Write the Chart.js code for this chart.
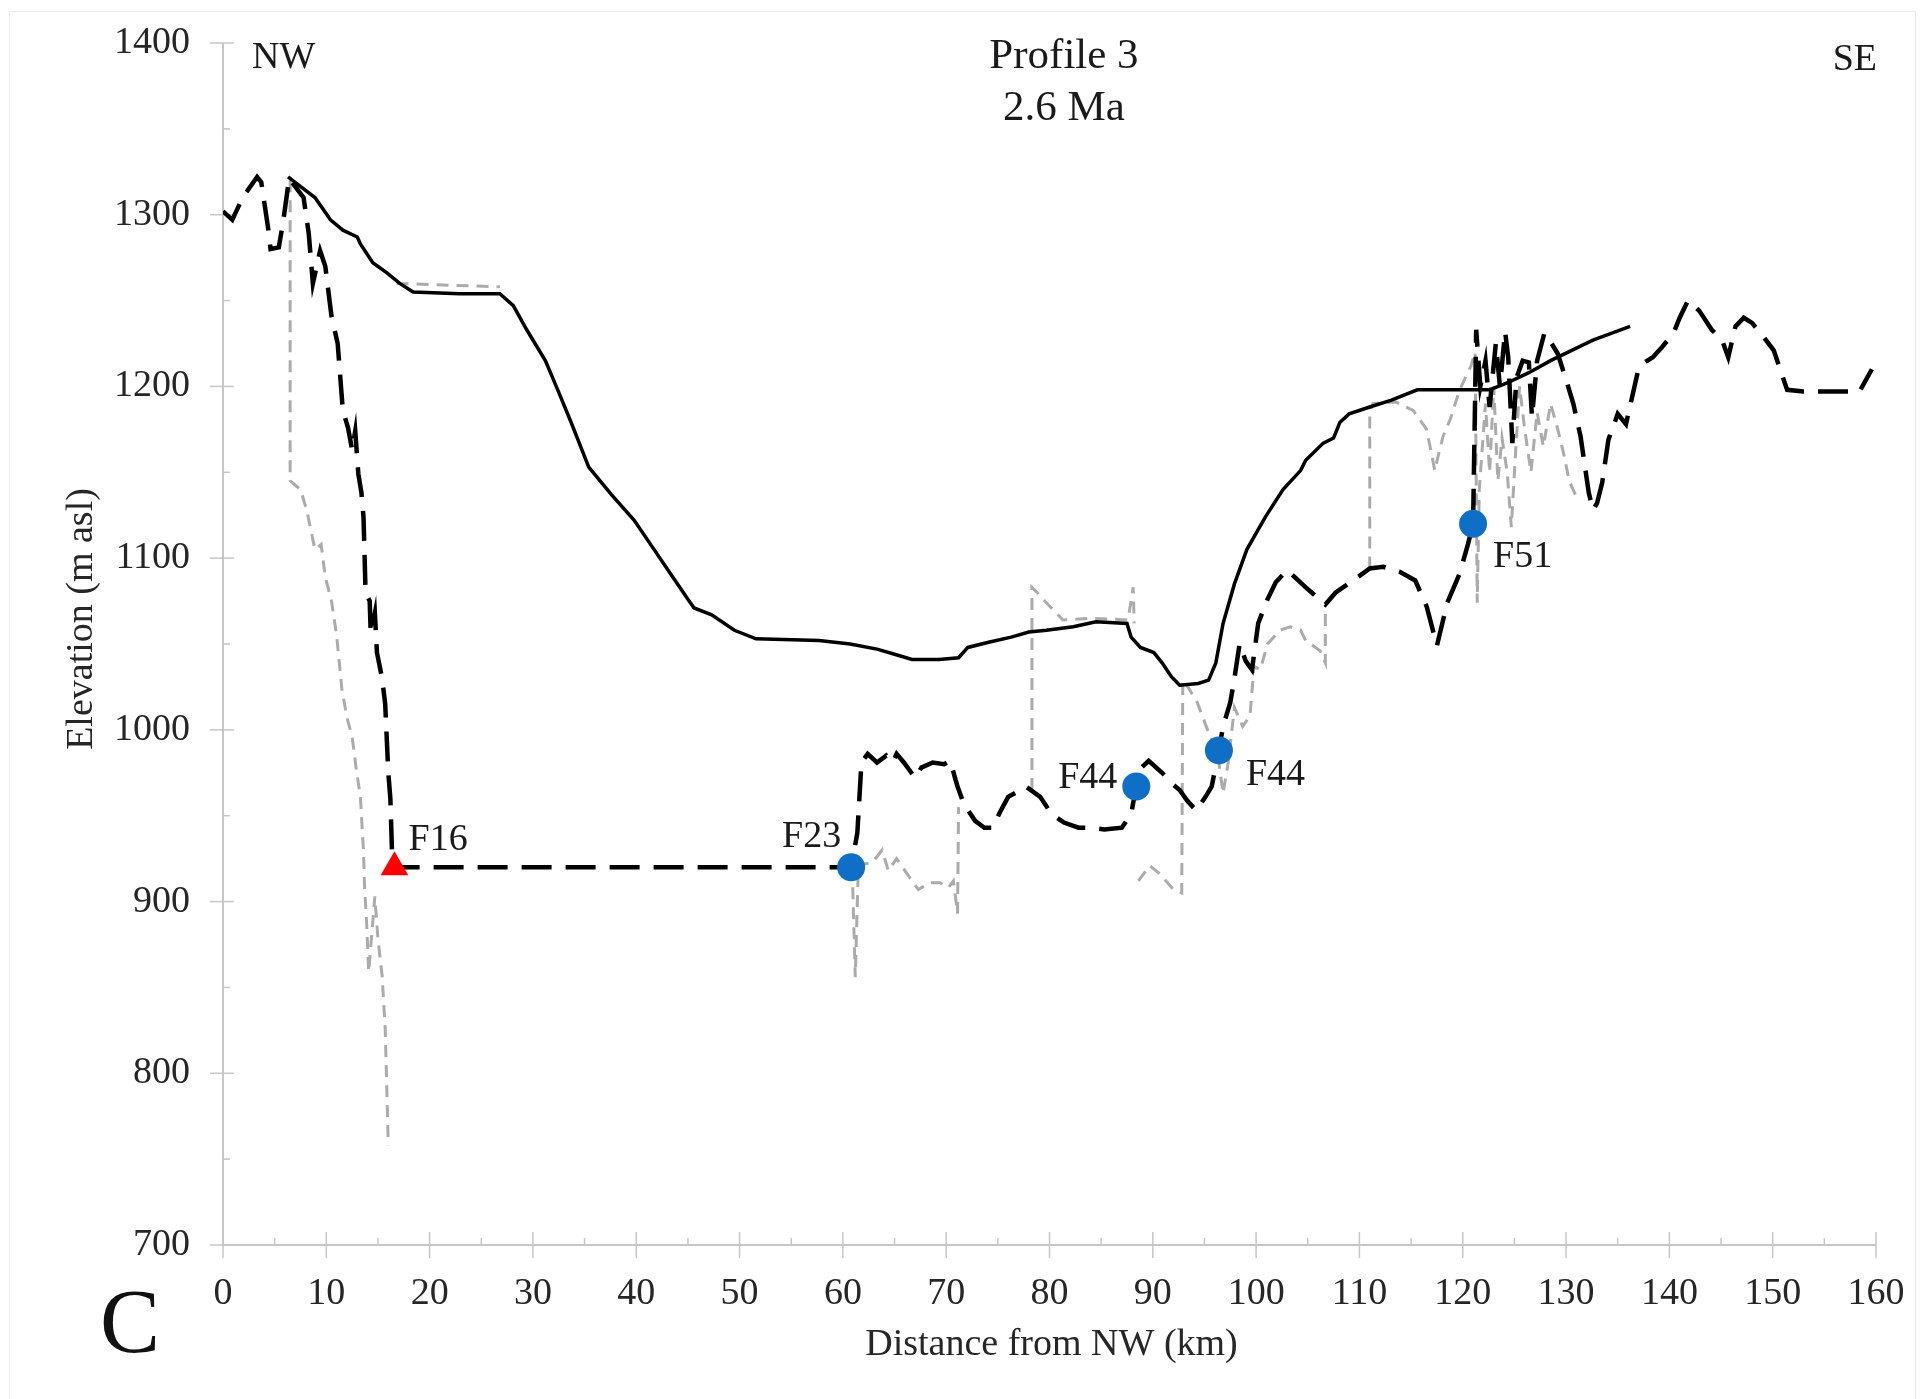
<!DOCTYPE html>
<html>
<head>
<meta charset="utf-8">
<script src="https://cdn.jsdelivr.net/npm/chart.js@4/dist/chart.umd.min.js"></script>
<style>
html,body{margin:0;padding:0;background:#fff;overflow:hidden}
canvas{display:block}
</style>
</head>
<body>
<canvas id="c" width="1923" height="1399" style="width:1923px;height:1399px"></canvas>
<script>
// ---------- DATA ----------
const xTicks = [0,10,20,30,40,50,60,70,80,90,100,110,120,130,140,150,160];
const yTicks = [700,800,900,1000,1100,1200,1300,1400];

// solid line (2.6 Ma surface)
const surfaceX = [6.3,7.8,8.9,10.4,11.6,13.0,13.3,14.5,15.9,17.1,18.4,22.9,26.8,28.1,29.4,31.2,32.4,33.7,35.4,36.5,37.6,39.8,41.5,43.3,45.0,45.6,47.3,49.5,51.6,57.7,60.7,63.3,65.0,66.7,69.3,71.2,72.1,74.1,76.3,78.0,79.7,82.3,84.5,87.5,87.9,88.8,90.1,90.9,91.8,92.6,94.4,95.4,96.1,96.8,97.9,99.1,100.9,102.6,104.3,104.8,106.5,107.5,108.1,109.0,111.0,113.1,115.6,116.9,122.6,124.3,126.4,128.5,132.6,136.2];
const surfaceY = [1322,1315,1310,1297,1291,1287,1283,1272,1266,1260,1255,1254,1254,1247,1233,1215,1198,1179,1153,1145,1137,1122,1107,1091,1076,1071,1067,1058,1053,1052,1050,1047,1044,1041,1041,1042,1048,1051,1054,1057,1058,1060,1063,1062,1054,1048,1045,1039,1031,1026,1027,1029,1039,1062,1085,1105,1124,1140,1151,1157,1167,1170,1179,1184,1188,1192,1198,1198,1198,1202,1208,1215,1227,1235];

// black dashed line (reconstructed profile)
const paleoX = [0,0.9,1.9,3.3,3.7,4.4,4.6,5.4,5.8,6.4,7.8,8.3,8.7,9.4,9.9,10.5,11.1,11.6,12.1,12.5,12.8,13.1,13.4,13.6,13.8,14.2,14.3,14.7,14.9,15.4,15.7,16.0,16.2,16.4,16.6,
  60.8,61.4,61.8,62.4,63.3,64.2,64.8,65.2,65.9,67.0,67.6,68.7,69.8,70.4,70.9,71.1,71.7,72.8,73.7,74.5,75.2,76.0,76.9,77.7,79.1,80.2,81.4,82.8,84.0,85.3,87.0,87.9,88.4,88.9,89.6,90.9,92.0,92.6,93.3,94.2,95.1,95.7,96.4,96.8,97.2,97.5,97.9,98.4,99.0,99.6,100.2,101.1,101.9,103.0,104.8,106.7,107.7,109.4,111.0,112.3,113.9,115.4,116.5,117.5,118.5,119.7,120.5,121.0,
  121.3,121.7,122.2,122.6,123.2,123.6,124.1,124.4,124.8,125.2,125.8,126.4,126.7,127.2,127.9,128.4,129.2,130.1,130.7,131.4,132.2,132.6,133.0,133.5,134.1,135.0,135.8,136.4,137.0,137.6,138.4,139.3,140.4,141.0,141.8,142.9,144.1,145.1,145.7,146.4,147.2,148.0,149.1,150.1,151.4,153.0,158.4,159.6];
const paleoY = [1302,1297,1310,1322,1319,1291,1280,1281,1295,1321,1310,1289,1260,1279,1270,1241,1225,1186,1176,1163,1174,1149,1138,1124,1080,1075,1056,1068,1045,1030,1015,975,960,921,920,
  920,940,981,986,981,985,981,986,981,972,978,981,980,982,971,967,957,947,943,943,952,961,964,967,961,951,946,943,943,942,943,951,967,978,982,975,968,965,959,953,961,967,988,1002,1010,1016,1030,1050,1040,1035,1062,1076,1086,1093,1083,1073,1080,1087,1094,1095,1092,1087,1072,1049,1074,1091,1108,1120,
  1233,1200,1215,1188,1225,1200,1232,1217,1167,1205,1215,1214,1182,1215,1231,1227,1219,1202,1190,1171,1138,1128,1132,1144,1169,1184,1178,1194,1210,1214,1217,1223,1231,1240,1250,1244,1233,1227,1217,1235,1240,1237,1229,1221,1198,1197,1197,1210];

// grey dashed line (null = gap)
const modernX = [6.5,6.5,7.5,8.1,8.9,9.5,9.9,10.5,11.0,11.5,12.0,12.5,12.9,13.3,13.6,13.7,13.9,14.1,14.7,15.0,15.4,15.7,16.0,16.0,
  16.8,26.8,26.8,
  60.9,61.2,61.5,62.9,63.8,64.4,65.2,66.0,67.3,68.4,69.4,70.2,70.7,71.1,71.2,71.2,
  78.3,78.3,78.8,79.7,81.3,84.0,87.6,88.1,88.2,88.2,
  88.6,89.7,90.7,92.0,92.8,92.9,93.5,94.3,95.3,96.3,96.8,97.3,97.9,98.7,99.4,99.8,100.4,101.1,102.3,103.3,104.3,104.8,106.2,106.7,106.7,106.7,
  111.0,111.0,111.3,113.5,115.2,116.5,117.3,117.6,118.1,118.8,119.7,120.8,121.2,121.4,121.6,122.2,122.6,123.0,123.4,123.8,124.3,124.7,125.1,125.5,126.0,126.6,127.2,127.8,128.5,129.2,129.8,130.3,130.9];
const modernY = [1320,1145,1140,1128,1105,1108,1089,1075,1055,1024,1007,996,977,961,929,909,888,859,903,878,857,826,758,null,
  1260,1258,null,
  920,856,921,923,930,918,925,918,907,911,911,908,912,893,955,null,
  965,1083,1080,1074,1064,1065,1064,1083,1062,null,
  912,921,916,907,905,1029,1024,1016,1000,985,963,981,1013,1002,1008,1037,1035,1050,1058,1060,1058,1052,1046,1039,1073,null,
  1094,1185,1190,1191,1186,1175,1151,1159,1171,1181,1198,1212,1220,1074,1140,1190,1150,1200,1145,1170,1150,1118,1160,1200,1175,1150,1185,1165,1190,1175,1160,1145,1137];

// markers
const f16X = [16.6], f16Y = [920], f16Name = ['F16'];
const siteX = [60.8, 88.4, 96.4, 121.0];
const siteY = [920, 967, 988, 1120];
const siteName = ['F23', 'F44', 'F44', 'F51'];

// ---------- STYLE ----------
const FONT = "'Liberation Serif','Times New Roman',serif";
const labelStyle = { // pixel offsets of the text from its marker (style, not data)
  F16: [14, -17, 'left'], F23: [-10, -20, 'right'], F44a: [-19, 1, 'right'], F44b: [27, 35, 'left'], F51: [20, 43, 'left']
};

const toPts = (xs, ys) => xs.map((x, i) => ({x: x, y: ys[i]}));

const axisPlugin = {
  id: 'axisMarks',
  beforeDraw(chart) {
    const ctx = chart.ctx;
    ctx.save();
    ctx.fillStyle = '#fff';
    ctx.fillRect(0, 0, chart.width, chart.height);
    ctx.strokeStyle = '#ececec';
    ctx.lineWidth = 1;
    ctx.strokeRect(9.5, 11.5, 1906, 1420);
    ctx.restore();
  },
  beforeDatasetsDraw(chart) {
    const {ctx, chartArea: a, scales: {x, y}} = chart;
    ctx.save();
    ctx.strokeStyle = '#c6c6c6';
    ctx.lineWidth = 2;
    ctx.beginPath();
    ctx.moveTo(a.left, a.top); ctx.lineTo(a.left, a.bottom); ctx.lineTo(a.right, a.bottom);
    ctx.stroke();
    ctx.lineWidth = 1.5;
    xTicks.forEach((v, i) => {
      const px = x.getPixelForValue(v);
      ctx.beginPath(); ctx.moveTo(px, a.bottom - 13); ctx.lineTo(px, a.bottom + 13); ctx.stroke();
      if (i < xTicks.length - 1) {
        const mx = x.getPixelForValue((v + xTicks[i + 1]) / 2);
        ctx.beginPath(); ctx.moveTo(mx, a.bottom - 7); ctx.lineTo(mx, a.bottom); ctx.stroke();
      }
    });
    yTicks.forEach((v, i) => {
      const py = y.getPixelForValue(v);
      ctx.beginPath(); ctx.moveTo(a.left - 13, py); ctx.lineTo(a.left + 11, py); ctx.stroke();
      if (i < yTicks.length - 1) {
        const my = y.getPixelForValue((v + yTicks[i + 1]) / 2);
        ctx.beginPath(); ctx.moveTo(a.left, my); ctx.lineTo(a.left + 7, my); ctx.stroke();
      }
    });
    ctx.restore();
  },
  afterDraw(chart) {
    const {ctx, chartArea: a, scales: {x, y}} = chart;
    ctx.save();
    ctx.fillStyle = '#1a1a1a';
    ctx.textBaseline = 'alphabetic';
    // header texts
    ctx.font = '43px ' + FONT;
    ctx.textAlign = 'center';
    const cx = x.getPixelForValue(81.4);
    ctx.fillText('Profile 3', cx, 68);
    ctx.fillText('2.6 Ma', cx, 120);
    ctx.font = '38px ' + FONT;
    ctx.textAlign = 'left';
    ctx.fillText('NW', a.left + 29, 68);
    ctx.textAlign = 'right';
    ctx.fillText('SE', a.right + 1, 70);
    // axis titles
    ctx.fillStyle = '#262626';
    ctx.textAlign = 'center';
    ctx.fillText('Distance from NW (km)', (a.left + a.right) / 2 + 2, 1355);
    ctx.save();
    ctx.translate(92, 619);
    ctx.rotate(-Math.PI / 2);
    ctx.fillText('Elevation (m asl)', 0, 0);
    ctx.restore();
    // panel letter
    ctx.fillStyle = '#111';
    ctx.textAlign = 'left';
    ctx.font = '90px ' + FONT;
    ctx.fillText('C', 100, 1352);
    // marker labels
    ctx.font = '38px ' + FONT;
    ctx.fillStyle = '#1a1a1a';
    const put = (key, name, xv, yv) => {
      const s = labelStyle[key];
      ctx.textAlign = s[2];
      ctx.fillText(name, x.getPixelForValue(xv) + s[0], y.getPixelForValue(yv) + s[1]);
    };
    put('F16', f16Name[0], f16X[0], f16Y[0]);
    put('F23', siteName[0], siteX[0], siteY[0]);
    put('F44a', siteName[1], siteX[1], siteY[1]);
    put('F44b', siteName[2], siteX[2], siteY[2]);
    put('F51', siteName[3], siteX[3], siteY[3]);
    ctx.restore();
  }
};

new Chart(document.getElementById('c'), {
  type: 'line',
  data: {
    datasets: [
      {
        label: 'grey', data: toPts(modernX, modernY), borderColor: '#ababab', borderWidth: 3,
        borderDash: [12, 8], pointRadius: 0, tension: 0, spanGaps: false, order: 4
      },
      {
        label: 'dashed', data: toPts(paleoX, paleoY), borderColor: '#000', borderWidth: 4.5,
        borderDash: [30, 14], pointRadius: 0, tension: 0, order: 3
      },
      {
        label: 'surface', data: toPts(surfaceX, surfaceY), borderColor: '#000', borderWidth: 3.5,
        pointRadius: 0, tension: 0, order: 2
      },
      {
        label: 'F16', data: toPts(f16X, f16Y), showLine: false, pointStyle: 'triangle',
        pointRadius: 16, backgroundColor: '#ff0000', borderWidth: 0, order: 1
      },
      {
        label: 'sites', data: toPts(siteX, siteY), showLine: false, pointStyle: 'circle',
        pointRadius: 14, backgroundColor: '#0f6fc6', borderWidth: 0, order: 0
      }
    ]
  },
  options: {
    responsive: false,
    animation: false,
    events: [],
    layout: { padding: { left: 0, right: 47, top: 43, bottom: 0 } },
    plugins: { legend: { display: false }, tooltip: { enabled: false }, title: { display: false } },
    scales: {
      x: {
        type: 'linear', min: 0, max: 160,
        grid: { display: false, drawTicks: false },
        border: { display: false },
        afterFit: s => { s.height = 154; s.paddingLeft = 0; s.paddingRight = 0; },
        afterBuildTicks: s => { s.ticks = xTicks.map(v => ({ value: v })); },
        ticks: {
          autoSkip: false, maxRotation: 0, padding: 26, color: '#262626',
          font: { family: FONT, size: 38 },
          callback: (v) => String(xTicks[xTicks.indexOf(v)])
        }
      },
      y: {
        type: 'linear', min: 700, max: 1400,
        grid: { display: false, drawTicks: false },
        border: { display: false },
        afterFit: s => { s.width = 223; s.paddingTop = 0; s.paddingBottom = 0; },
        afterBuildTicks: s => { s.ticks = yTicks.map(v => ({ value: v })); },
        ticks: {
          autoSkip: false, padding: 33, color: '#262626',
          font: { family: FONT, size: 38 },
          callback: (v) => String(yTicks[yTicks.indexOf(v)])
        }
      }
    }
  },
  plugins: [axisPlugin]
});
</script>
</body>
</html>
